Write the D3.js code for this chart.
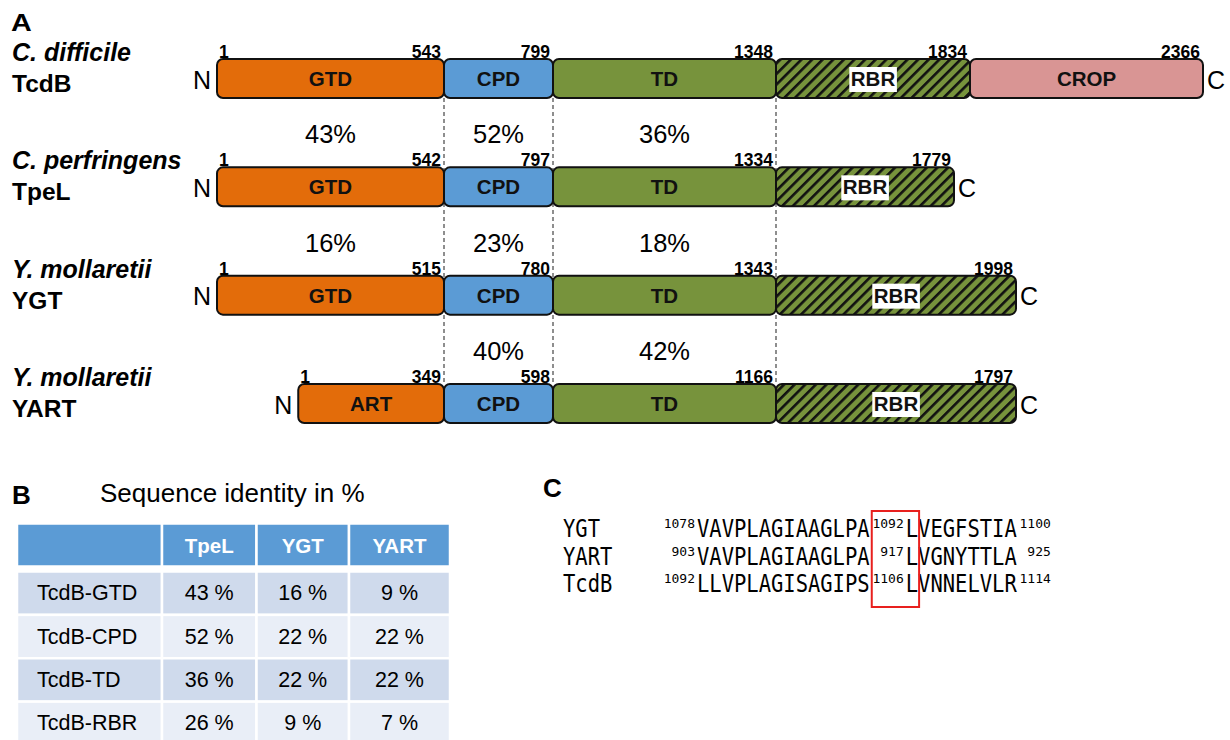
<!DOCTYPE html>
<html><head><meta charset="utf-8">
<script src="https://cdn.jsdelivr.net/npm/d3@7"></script>
<style>body{margin:0;background:#fff} svg{display:block}</style>
</head><body><svg id="c" width="1230" height="740"></svg>
<script>
// ---------- DATA ----------
const proteins = ["TcdB", "TpeL", "YGT", "YART"];
const species = ["C. difficile", "C. perfringens", "Y. mollaretii", "Y. mollaretii"];
const tcdbDomains = ["GTD", "CPD", "TD", "RBR", "CROP"];
const tpelDomains = ["GTD", "CPD", "TD", "RBR"];
const ygtDomains = ["GTD", "CPD", "TD", "RBR"];
const yartDomains = ["ART", "CPD", "TD", "RBR"];
const tcdbEnds = [543, 799, 1348, 1834, 2366];
const tpelEnds = [542, 797, 1334, 1779];
const ygtEnds = [515, 780, 1343, 1998];
const yartEnds = [349, 598, 1166, 1797];
// identity (%) between consecutive rows, for GTD, CPD, TD columns
const identTcdbTpel = [43, 52, 36];
const identTpelYgt = [16, 23, 18];
const identYgtYart = [null, 40, 42];

const tableCols = ["TpeL", "YGT", "YART"];
const tableRows = ["TcdB-GTD", "TcdB-CPD", "TcdB-TD", "TcdB-RBR"];
const tpelPct = [43, 52, 36, 26];
const ygtPct = [16, 22, 22, 9];
const yartPct = [9, 22, 22, 7];

const seqNames = ["YGT", "YART", "TcdB"];
const seqStart = [1078, 903, 1092];
const seqPre = ["VAVPLAGIAAGLPA", "VAVPLAGIAAGLPA", "LLVPLAGISAGIPS"];
const seqSite = [1092, 917, 1106];
const seqPost = ["LVEGFSTIA", "LVGNYTTLA", "LVNNELVLR"];
const seqEnd = [1100, 925, 1114];

// ---------- SETUP ----------
const FONT = '"Liberation Sans", Arial, sans-serif';
const MONO = '"DejaVu Sans Mono", monospace';
const svg = d3.select("#c");
function T(g, x, y, s, o = {}) {
  const t = g.append("text").text(s)
    .attr("font-size", o.size || 16).attr("font-weight", o.bold ? "bold" : "normal")
    .attr("font-style", o.italic ? "italic" : "normal").attr("text-anchor", o.anchor || "start")
    .attr("fill", o.fill || "#000").attr("font-family", o.family || FONT)
    .style("white-space", "pre");
  if (o.sx) t.attr("x", 0).attr("y", 0).attr("transform", `translate(${x},${y}) scale(${o.sx},1)`);
  else t.attr("x", x).attr("y", y);
  return t;
}

const defs = svg.append("defs");
const pat = defs.append("pattern").attr("id", "hatch").attr("patternUnits", "userSpaceOnUse")
  .attr("width", 7.5).attr("height", 7.5).attr("patternTransform", "rotate(45)");
pat.append("rect").attr("width", 7.5).attr("height", 7.5).attr("fill", "#77933C");
pat.append("rect").attr("width", 2.6).attr("height", 7.5).attr("fill", "#111");

const fills = { GTD: "#E36C0A", ART: "#E36C0A", CPD: "#5B9BD5", TD: "#77933C", RBR: "url(#hatch)", CROP: "#D99594" };

// ---------- PANEL A ----------
const A = svg.append("g");
T(A, 11, 31, "A", { size: 23, bold: true, sx: 1.25 });

const xA = d3.scaleLinear().domain([1, ...tcdbEnds]).range([217, 444, 553, 776, 970, 1203]);
const resPx = d3.scaleLinear().domain([0, tcdbEnds[0] - 1]).range([0, xA(tcdbEnds[0]) - xA(1)]);
const rbrPx = d3.scaleLinear().domain([0, 600]).range([0, 240]).clamp(true);
const yRow = d3.scaleLinear().domain([0, 3]).range([59, 384]);
const barH = 39;

const domainsList = [tcdbDomains, tpelDomains, ygtDomains, yartDomains];
const endsList = [tcdbEnds, tpelEnds, ygtEnds, yartEnds];

function segs(i) {
  const ends = endsList[i], names = domainsList[i];
  if (i === 0) return names.map((n, k) => ({ n, x0: xA(k ? ends[k - 1] : 1), x1: xA(ends[k]), end: ends[k] }));
  const g = xA(tcdbEnds[0]), c = xA(tcdbEnds[1]), t = xA(tcdbEnds[2]);
  return [
    { n: names[0], x0: names[0] === "GTD" ? xA(1) : g - resPx(ends[0] - 1), x1: g, end: ends[0] },
    { n: names[1], x0: g, x1: c, end: ends[1] },
    { n: names[2], x0: c, x1: t, end: ends[2] },
    { n: names[3], x0: t, x1: t + rbrPx(ends[3] - ends[2]), end: ends[3] }
  ];
}

// dashed guides
[tcdbEnds[0], tcdbEnds[1], tcdbEnds[2]].forEach(r => {
  A.append("line").attr("x1", xA(r)).attr("x2", xA(r))
    .attr("y1", yRow(0) + barH).attr("y2", yRow(3))
    .attr("stroke", "#444").attr("stroke-width", 1.2).attr("stroke-dasharray", "4,3");
});

proteins.forEach((p, i) => {
  const y = yRow(i);
  const S = segs(i);
  T(A, 12, y + 2, species[i], { size: 25, bold: true, italic: true });
  T(A, 12, y + 33, p, { size: 24.5, bold: true });
  T(A, S[0].x0 - 6, y + barH / 2 + 10, "N", { size: 25, anchor: "end" });
  T(A, S[S.length - 1].x1 + 4, y + barH / 2 + 10, "C", { size: 25 });
  S.forEach(s => {
    A.append("rect").attr("x", s.x0).attr("y", y).attr("width", s.x1 - s.x0).attr("height", barH)
      .attr("rx", 6).attr("fill", fills[s.n]).attr("stroke", "#111").attr("stroke-width", 2);
  });
  S.forEach(s => {
    const cx = (s.x0 + s.x1) / 2;
    const t = T(A, cx, y + barH / 2 + 7.5, s.n, { size: 20.5, bold: true, anchor: "middle", fill: "#111" });
    if (s.n === "RBR") {
      const b = t.node().getBBox();
      A.insert("rect", () => t.node()).attr("x", b.x - 1.5).attr("y", b.y).attr("width", b.width + 3).attr("height", b.height + 2)
        .attr("fill", "#fff");
    }
    T(A, s.x1 - 3, y - 1, String(s.end), { size: 17.5, bold: true, anchor: "end" });
  });
  T(A, S[0].x0 + 2, y - 1, "1", { size: 17.5, bold: true });
});

const identRows = [identTcdbTpel, identTpelYgt, identYgtYart];
identRows.forEach((vals, r) => {
  vals.forEach((v, k) => {
    if (v == null) return;
    const cx = (xA(k ? tcdbEnds[k - 1] : 1) + xA(tcdbEnds[k])) / 2;
    T(A, cx, yRow(r + 1) - 24, v + "%", { size: 25.5, anchor: "middle" });
  });
});

// ---------- PANEL B ----------
const B = svg.append("g");
T(B, 12, 504, "B", { size: 26, bold: true });
T(B, 100, 502, "Sequence identity in %", { size: 26 });
const colW = [145, 94.5, 92.5, 101];
const colX = [17];
colW.forEach((w, k) => colX.push(colX[k] + w));
const headY = 523.5, headH = 43;
colW.forEach((w, k) => {
  B.append("rect").attr("x", colX[k]).attr("y", headY).attr("width", w).attr("height", headH)
    .attr("fill", "#5B9BD5").attr("stroke", "#fff").attr("stroke-width", 2.5);
});
tableCols.forEach((c, k) => {
  T(B, colX[k + 1] + colW[k + 1] / 2, headY + headH / 2 + 7.5, c, { size: 20.5, bold: true, anchor: "middle", fill: "#fff" });
});
const yB = d3.scaleBand().domain(tableRows).range([571.5, 745]);
const colVals = [tpelPct, ygtPct, yartPct];
tableRows.forEach((r, i) => {
  const y = yB(r), h = yB.bandwidth();
  colW.forEach((w, k) => {
    B.append("rect").attr("x", colX[k]).attr("y", y).attr("width", w).attr("height", h)
      .attr("fill", i % 2 === 0 ? "#CFDAEC" : "#E9EEF7").attr("stroke", "#fff").attr("stroke-width", 2.5);
  });
  T(B, 37, y + h / 2 + 7, r, { size: 21.5 });
  colVals.forEach((vals, k) => {
    T(B, colX[k + 1] + colW[k + 1] / 2, y + h / 2 + 7, vals[i] + " %", { size: 21.5, anchor: "middle" });
  });
});

// ---------- PANEL C ----------
const C = svg.append("g");
T(C, 543, 497, "C", { size: 26, bold: true });
const yS = d3.scaleLinear().domain([0, 2]).range([537, 592]);
const bigSize = 24, smallSize = 13;
const bigW = 12.34, fieldW = 36;            // advance per residue, width of a number field (px)
const monoSx = bigW / (0.602 * bigSize);    // horizontal squeeze of the sequence font
let boxL = 0, boxR = 0;
function sup(x, y, v) {
  T(C, x + fieldW - 2, y - 9, String(v), { size: smallSize, family: MONO, anchor: "end" });
}
seqNames.forEach((n, i) => {
  const y = yS(i);
  T(C, 563, y, n, { size: bigSize, family: MONO, sx: monoSx });
  let cur = 697 - fieldW;
  sup(cur, y, seqStart[i]);
  cur += fieldW;
  T(C, cur, y, seqPre[i], { size: bigSize, family: MONO, sx: monoSx });
  cur += seqPre[i].length * bigW;
  boxL = cur + 2;
  sup(cur, y, seqSite[i]);
  cur += fieldW;
  T(C, cur, y, seqPost[i], { size: bigSize, family: MONO, sx: monoSx });
  boxR = cur + bigW + 1;
  cur += seqPost[i].length * bigW;
  sup(cur, y, seqEnd[i]);
});
C.append("rect").attr("x", boxL).attr("y", 511).attr("width", boxR - boxL).attr("height", 96)
  .attr("fill", "none").attr("stroke", "#E8201E").attr("stroke-width", 2);
</script></body></html>
